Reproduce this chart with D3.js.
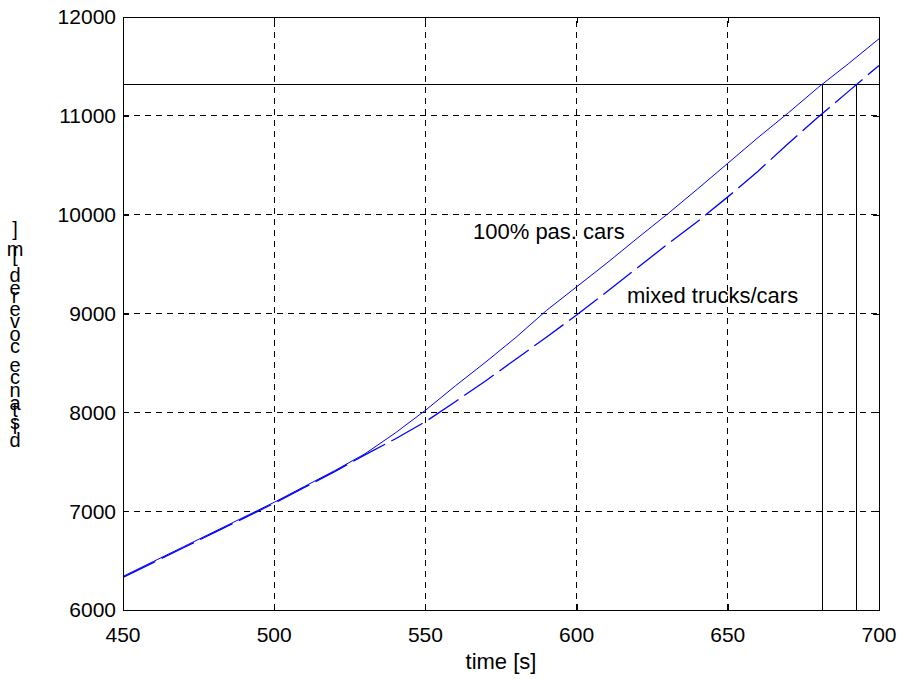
<!DOCTYPE html>
<html>
<head>
<meta charset="utf-8">
<script src="https://cdn.jsdelivr.net/npm/d3@7"></script>
<style>
  html, body { margin: 0; padding: 0; background: #fff; }
  svg { display: block; font-family: Arial, "Liberation Sans", sans-serif; }
</style>
</head>
<body>
<svg id="chart" width="904" height="679"></svg>
<script>
// Time samples [s]
const times = [450, 460, 470, 480, 490, 500, 510, 520, 530, 540, 550, 560, 570,
               580, 590, 600, 610, 620, 630, 640, 650, 660, 670, 680, 690, 700];
// Distance covered [m], traffic of passenger cars only
const carsOnly = [6340, 6490, 6640, 6790, 6940, 7090, 7250, 7410, 7580, 7790, 8020, 8270, 8510,
                  8760, 9030, 9270, 9510, 9760, 10005, 10260, 10520, 10780, 11030, 11290, 11530, 11780];
// Distance covered [m], mixed trucks and cars
const mixed = [6330, 6480, 6630, 6780, 6930, 7080, 7240, 7400, 7570, 7730, 7905, 8110, 8320,
               8540, 8760, 8985, 9220, 9460, 9700, 9930, 10180, 10440, 10720, 10990, 11250, 11510];

// Target distance and arrival times of the two traffic mixes
const targetDistance = 11320;
const arrivalTimes = [681.4, 692.5];

const xTicks = [450, 500, 550, 600, 650, 700];
const yTicks = [6000, 7000, 8000, 9000, 10000, 11000, 12000];

const seriesLabels = ["100% pas. cars", "mixed trucks/cars"];
const xLabel = "time [s]";
const yLabel = "distance covered [m]";

const svg = d3.select("#chart");
const plotLeft = 123, plotRight = 879, plotTop = 17, plotBottom = 610;

const x = d3.scaleLinear().domain([450, 700]).range([plotLeft, plotRight]);
const y = d3.scaleLinear().domain([6000, 12000]).range([plotBottom, plotTop]);

const tickFont = 21;
const labelFont = 22;

// Dashed grid
const grid = svg.append("g").attr("stroke", "#000").attr("stroke-width", 1)
  .attr("stroke-dasharray", "6,5").attr("shape-rendering", "crispEdges");
grid.selectAll("line.vx").data(xTicks.slice(1, -1)).join("line")
  .attr("x1", d => x(d)).attr("x2", d => x(d)).attr("y1", plotBottom).attr("y2", plotTop);
grid.selectAll("line.hy").data(yTicks.slice(1, -1)).join("line")
  .attr("y1", d => y(d)).attr("y2", d => y(d)).attr("x1", plotLeft).attr("x2", plotRight);

// Target distance and arrival-time markers
const marks = svg.append("g").attr("stroke", "#000").attr("stroke-width", 1)
  .attr("shape-rendering", "crispEdges");
marks.append("line").attr("x1", plotLeft).attr("x2", plotRight)
  .attr("y1", y(targetDistance)).attr("y2", y(targetDistance));
marks.selectAll("line.arr").data(arrivalTimes).join("line")
  .attr("x1", d => x(d)).attr("x2", d => x(d))
  .attr("y1", y(6000)).attr("y2", y(targetDistance));

// Curves
const line = d3.line().x((d, i) => x(times[i])).y(d => y(d));
svg.append("path").datum(carsOnly).attr("d", line)
  .attr("fill", "none").attr("stroke", "#0000ff").attr("stroke-width", 1);
svg.append("path").datum(mixed).attr("d", line)
  .attr("fill", "none").attr("stroke", "#0000ff").attr("stroke-width", 1.3)
  .attr("stroke-dasharray", "36,7");

// Axes box with inward ticks
const axisStyle = g => {
  g.select(".domain").attr("stroke", "#000");
  g.selectAll(".tick line").attr("stroke", "#000");
  g.attr("shape-rendering", "crispEdges");
};
svg.append("g").attr("transform", `translate(0,${plotBottom})`)
  .call(d3.axisBottom(x).tickValues(xTicks).tickSize(-6).tickSizeOuter(0).tickFormat(""))
  .call(axisStyle);
svg.append("g").attr("transform", `translate(0,${plotTop})`)
  .call(d3.axisTop(x).tickValues(xTicks).tickSize(-6).tickSizeOuter(0).tickFormat(""))
  .call(axisStyle);
svg.append("g").attr("transform", `translate(${plotLeft},0)`)
  .call(d3.axisLeft(y).tickValues(yTicks).tickSize(-6).tickSizeOuter(0).tickFormat(""))
  .call(axisStyle);
svg.append("g").attr("transform", `translate(${plotRight},0)`)
  .call(d3.axisRight(y).tickValues(yTicks).tickSize(-6).tickSizeOuter(0).tickFormat(""))
  .call(axisStyle);

// Tick labels
svg.append("g").selectAll("text").data(xTicks).join("text")
  .attr("x", d => x(d)).attr("y", plotBottom + 32)
  .attr("text-anchor", "middle").attr("font-size", tickFont).attr("fill", "#000")
  .text(d => d);
svg.append("g").selectAll("text").data(yTicks).join("text")
  .attr("x", plotLeft - 7).attr("y", d => y(d)).attr("dy", "0.35em")
  .attr("text-anchor", "end").attr("font-size", tickFont).attr("fill", "#000")
  .text(d => d);

// Axis titles
svg.append("text").attr("x", (plotLeft + plotRight) / 2).attr("y", plotBottom + 59)
  .attr("text-anchor", "middle").attr("font-size", labelFont).attr("fill", "#000")
  .text(xLabel);

// Vertical title: upright glyphs stacked from the bottom upwards
const chars = Array.from(yLabel);
const probe = svg.append("text").attr("font-size", labelFont);
const advances = chars.map(c => {
  probe.text(c === " " ? "\u00a0" : c);
  return probe.node().getComputedTextLength();
});
probe.remove();
const cum = [];
advances.reduce((acc, a, i) => { cum[i] = acc; return acc + a; }, 0);
const lastCum = cum[cum.length - 1];
const yBase = d3.scaleLinear().domain([0, lastCum]).range([447, 236]);
svg.append("g").selectAll("text").data(chars).join("text")
  .attr("x", 15).attr("y", (d, i) => yBase(cum[i]))
  .attr("text-anchor", "middle").attr("font-size", 20).attr("fill", "#000")
  .text(d => d);

// Series annotations
svg.append("text").attr("x", 473).attr("y", 239)
  .attr("font-size", labelFont).attr("fill", "#000").text(seriesLabels[0]);
svg.append("text").attr("x", 627).attr("y", 303)
  .attr("font-size", labelFont).attr("fill", "#000").text(seriesLabels[1]);
</script>
</body>
</html>
